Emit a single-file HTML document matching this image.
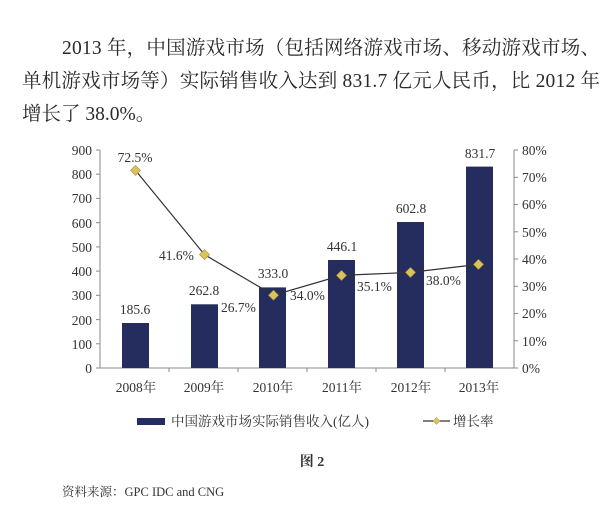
<!DOCTYPE html>
<html><head><meta charset="utf-8"><style>
html,body{margin:0;padding:0;background:#fff;}
body{width:609px;height:511px;overflow:hidden;position:relative;}
svg{position:absolute;left:0;top:0;}
</style></head><body>
<svg width="609" height="511" xmlns="http://www.w3.org/2000/svg">
<g font-family="'Liberation Serif','Noto Serif CJK SC',serif" font-size="19.5" fill="#2a2a2a">
<text x="62" y="54" textLength="538" lengthAdjust="spacing">2013 年，中国游戏市场（包括网络游戏市场、移动游戏市场、</text>
<text x="22" y="87" textLength="578" lengthAdjust="spacing">单机游戏市场等）实际销售收入达到 831.7 亿元人民币，比 2012 年</text>
<text x="22" y="120">增长了 38.0%。</text>
</g>
<g stroke="#888" stroke-width="1" fill="none">
<line x1="100" y1="150" x2="100" y2="368"/>
<line x1="514" y1="150" x2="514" y2="368"/>
<line x1="100" y1="368" x2="514" y2="368"/>
<line x1="96" y1="150" x2="100" y2="150"/><line x1="96" y1="174.2" x2="100" y2="174.2"/><line x1="96" y1="198.4" x2="100" y2="198.4"/><line x1="96" y1="222.7" x2="100" y2="222.7"/><line x1="96" y1="246.9" x2="100" y2="246.9"/><line x1="96" y1="271.1" x2="100" y2="271.1"/><line x1="96" y1="295.3" x2="100" y2="295.3"/><line x1="96" y1="319.6" x2="100" y2="319.6"/><line x1="96" y1="343.8" x2="100" y2="343.8"/><line x1="96" y1="368" x2="100" y2="368"/>
<line x1="514" y1="150" x2="518" y2="150"/><line x1="514" y1="177.3" x2="518" y2="177.3"/><line x1="514" y1="204.5" x2="518" y2="204.5"/><line x1="514" y1="231.8" x2="518" y2="231.8"/><line x1="514" y1="259" x2="518" y2="259"/><line x1="514" y1="286.3" x2="518" y2="286.3"/><line x1="514" y1="313.5" x2="518" y2="313.5"/><line x1="514" y1="340.8" x2="518" y2="340.8"/><line x1="514" y1="368" x2="518" y2="368"/>
<line x1="169" y1="368" x2="169" y2="372"/><line x1="238" y1="368" x2="238" y2="372"/><line x1="307" y1="368" x2="307" y2="372"/><line x1="376" y1="368" x2="376" y2="372"/><line x1="445" y1="368" x2="445" y2="372"/>
</g>
<g fill="#242d5e">
<rect x="122" y="323" width="27" height="45"/>
<rect x="191" y="304.3" width="27" height="63.7"/>
<rect x="259" y="287.4" width="27" height="80.6"/>
<rect x="328" y="260" width="27" height="108"/>
<rect x="397" y="222" width="27" height="146"/>
<rect x="466" y="166.6" width="27" height="201.4"/>
</g>
<polyline points="135.5,170.4 204.5,254.6 273.5,295.2 341.5,275.4 410.5,272.4 478.5,264.4" fill="none" stroke="#333" stroke-width="1.2"/>
<g fill="#d8c35c" stroke="#a99030" stroke-width="0.6">
<path d="M135.5,165.4 l5,5 l-5,5 l-5,-5z"/>
<path d="M204.5,249.6 l5,5 l-5,5 l-5,-5z"/>
<path d="M273.5,290.2 l5,5 l-5,5 l-5,-5z"/>
<path d="M341.5,270.4 l5,5 l-5,5 l-5,-5z"/>
<path d="M410.5,267.4 l5,5 l-5,5 l-5,-5z"/>
<path d="M478.5,259.4 l5,5 l-5,5 l-5,-5z"/>
</g>
<g font-family="'Liberation Serif','Noto Serif CJK SC',serif" font-size="13.5" fill="#333">
<g text-anchor="end">
<text x="92" y="155">900</text><text x="92" y="179">800</text><text x="92" y="203">700</text><text x="92" y="228">600</text><text x="92" y="252">500</text><text x="92" y="276">400</text><text x="92" y="300">300</text><text x="92" y="325">200</text><text x="92" y="349">100</text><text x="92" y="373">0</text>
</g>
<g>
<text x="522" y="155">80%</text><text x="522" y="182">70%</text><text x="522" y="209">60%</text><text x="522" y="237">50%</text><text x="522" y="264">40%</text><text x="522" y="291">30%</text><text x="522" y="318">20%</text><text x="522" y="346">10%</text><text x="522" y="373">0%</text>
</g>
<g text-anchor="middle">
<text x="135" y="314">185.6</text><text x="204" y="295">262.8</text><text x="273" y="278">333.0</text><text x="342" y="251">446.1</text><text x="411" y="213">602.8</text><text x="480" y="158">831.7</text>
<text x="135" y="162">72.5%</text>
</g>
<text x="159" y="260">41.6%</text>
<text x="221" y="312">26.7%</text>
<text x="290" y="300">34.0%</text>
<text x="357" y="291">35.1%</text>
<text x="426" y="285">38.0%</text>
<g text-anchor="middle">
<text x="136" y="392">2008年</text><text x="204" y="392">2009年</text><text x="273" y="392">2010年</text><text x="342" y="392">2011年</text><text x="411" y="392">2012年</text><text x="479" y="392">2013年</text>
</g>
<rect x="137" y="418" width="28" height="7" fill="#242d5e"/>
<text x="171" y="426">中国游戏市场实际销售收入(亿人)</text>
<line x1="423" y1="421" x2="450" y2="421" stroke="#333" stroke-width="1.2"/>
<path d="M436.5,417.5 l3.5,3.5 l-3.5,3.5 l-3.5,-3.5z" fill="#d8c35c" stroke="#a99030" stroke-width="0.5"/>
<text x="453" y="426">增长率</text>
<text x="312" y="466" text-anchor="middle" font-weight="bold" font-size="14">图 2</text>
<text x="62" y="496" font-size="12.5">资料来源：GPC IDC and CNG</text>
</g>
</svg>
</body></html>
